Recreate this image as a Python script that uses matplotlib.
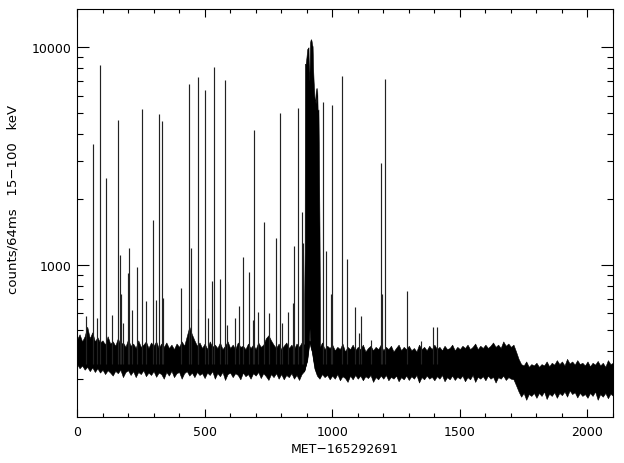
import matplotlib
matplotlib.use("Agg")
import matplotlib.pyplot as plt
from matplotlib.ticker import FixedLocator, NullFormatter, FixedFormatter

# ---- data (counts per 64 ms bin envelope) ----
band_t = list(range(0, 2101, 10))
band_hi = [455, 480, 445, 470, 520, 460, 490, 445, 465, 440,
           450, 430, 470, 435, 445, 425, 460, 430, 440, 420,
           455, 425, 435, 415, 450, 420, 430, 445, 415, 440,
           425, 445, 415, 435, 420, 440, 415, 430, 410, 435,
           420, 445, 425, 470, 520, 480, 450, 425, 440, 415,
           435, 410, 445, 420, 430, 415, 440, 410, 425, 445,
           415, 430, 410, 440, 420, 425, 410, 435, 415, 430,
           410, 440, 420, 430, 460, 475, 450, 430, 415, 435,
           410, 425, 440, 415, 430, 410, 435, 420, 440, 430,
           440, 450, 440, 430, 425, 415, 440, 410, 425, 415,
           430, 405, 420, 410, 435, 400, 420, 410, 430, 405,
           420, 410, 430, 400, 415, 425, 405, 420, 410, 430,
           405, 420, 410, 425, 400, 415, 430, 405, 420, 410,
           425, 405, 415, 400, 430, 410, 420, 405, 425, 410,
           430, 410, 420, 405, 425, 410, 415, 430, 405, 420,
           410, 425, 415, 430, 410, 420, 435, 410, 425, 415,
           430, 415, 425, 440, 420, 430, 415, 445, 425, 435,
           420, 430, 400, 370, 350, 345, 360, 340, 350, 345,
           355, 340, 350, 345, 360, 342, 355, 348, 365, 350,
           360, 345, 370, 352, 360, 348, 365, 350, 355, 345,
           360, 342, 355, 348, 362, 345, 355, 340, 365, 350,
           355]
band_lo = [350, 335, 345, 330, 340, 325, 338, 322, 335, 320,
           330, 315, 328, 320, 310, 326, 318, 330, 305, 322,
           328, 312, 325, 305, 322, 315, 328, 308, 320, 312,
           325, 306, 320, 315, 300, 322, 310, 326, 305, 318,
           322, 300, 318, 325, 310, 320, 305, 322, 312, 318,
           302, 320, 312, 325, 300, 318, 308, 322, 296, 315,
           320, 305, 318, 312, 298, 320, 308, 315, 300, 318,
           310, 322, 302, 318, 308, 296, 315, 305, 318, 300,
           315, 298, 312, 305, 318, 300, 312, 296, 315, 325,
           360, 440, 400, 335, 310, 300, 315, 305, 312, 298,
           310, 300, 315, 295, 308, 302, 290, 310, 298, 312,
           300, 310, 295, 308, 302, 312, 290, 305, 298, 310,
           300, 312, 295, 306, 300, 310, 292, 305, 298, 310,
           296, 308, 300, 312, 288, 305, 298, 310, 300, 306,
           295, 308, 300, 312, 292, 305, 298, 310, 296, 306,
           300, 310, 292, 305, 298, 312, 290, 306, 300, 308,
           295, 310, 300, 306, 288, 305, 300, 310, 296, 305,
           300, 298, 280, 262, 248, 258, 240, 255, 250, 258,
           245, 258, 250, 262, 242, 256, 250, 260, 245, 258,
           252, 262, 248, 265, 255, 260, 246, 258, 250, 255,
           245, 258, 250, 262, 240, 255, 248, 258, 244, 256,
           250]

burst_t = [890, 892, 893, 896, 899, 902, 905, 907, 909, 911, 913,
           915, 917, 919, 921, 923, 925, 927, 930, 932, 934, 936, 938,
           941, 943, 946, 948, 950, 952]
burst_hi = [700, 1150, 8400, 8390, 9000, 9820, 9900, 10000, 7000,
            7800, 10500, 10800, 10900, 10700, 10300, 10100, 8000, 7000,
            6000, 5600, 5800, 6490, 5500, 6500, 5000, 5180, 3000, 1500, 600]
burst_lo = [325, 330, 335, 345, 355, 365, 390, 410, 430, 510, 440,
            430, 420, 405, 400, 385, 370, 360, 345, 335, 330, 325, 320,
            318, 315, 312, 310, 308, 305]

spike_t = [35, 61, 77, 90, 113, 136, 160, 167, 171, 181, 200, 202, 214,
           237, 254, 270, 297, 308, 321, 333, 337, 407, 438, 445, 474,
           475, 501, 514, 527, 536, 560, 578, 586, 619, 634, 649, 673,
           690, 693, 710, 732, 753, 778, 797, 805, 827, 846, 850, 865,
           881, 885, 963, 977, 994, 1001, 1037, 1056, 1091, 1104, 1112,
           1151, 1190, 1194, 1207, 1292, 1347, 1394, 1410]
spike_v = [580, 3600, 570, 8300, 2510, 590, 4640, 1115, 738, 540, 915,
           1190, 620, 975, 5210, 684, 1600, 690, 4930, 4580, 703, 782,
           6770, 1190, 7290, 630, 6370, 570, 840, 8120, 857, 7080, 530,
           570, 650, 1093, 925, 560, 4180, 610, 1567, 600, 1325, 5000,
           540, 610, 667, 1216, 5250, 1742, 1257, 5600, 1160, 737, 5440,
           7360, 1070, 640, 486, 580, 453, 2950, 738, 7160, 762, 446,
           520, 520]
spike_base = 350

x_ticks = [0, 500, 1000, 1500, 2000]
x_ticklabels = ["0", "500", "1000", "1500", "2000"]
y_ticks = [1000, 10000]
y_ticklabels = ["1000", "10000"]

# ---- figure ----
fig = plt.figure(figsize=(6.24, 4.64), dpi=100)
ax = fig.add_axes([77 / 624, 1 - 418 / 464, 536 / 624, 408 / 464])

ax.fill_between(band_t, band_lo, band_hi, color="black", linewidth=0.4,
                edgecolor="black")
ax.fill_between(burst_t, burst_lo, burst_hi, color="black", linewidth=0.4,
                edgecolor="black")
ax.vlines(spike_t, spike_base, spike_v, color="#222222", linewidth=0.85)

ax.set_yscale("log")
ax.set_xlim(0, 2100)
ax.set_ylim(200, 15000)

ax.xaxis.set_major_locator(FixedLocator(x_ticks))
ax.xaxis.set_major_formatter(FixedFormatter(x_ticklabels))
ax.xaxis.set_minor_locator(FixedLocator(list(range(0, 2101, 100))))
ax.yaxis.set_major_locator(FixedLocator(y_ticks))
ax.yaxis.set_major_formatter(FixedFormatter(y_ticklabels))
ax.yaxis.set_minor_locator(FixedLocator([300, 400, 500, 600, 700, 800, 900,
                                         2000, 3000, 4000, 5000, 6000, 7000,
                                         8000, 9000]))
ax.yaxis.set_minor_formatter(NullFormatter())

ax.tick_params(axis="x", which="major", direction="in", length=5.8,
               width=0.8, top=True, labelsize=9, pad=6)
ax.tick_params(axis="x", which="minor", direction="in", length=3.2,
               width=0.8, top=True)
ax.tick_params(axis="y", which="major", direction="in", length=8.6,
               width=0.8, right=True, labelsize=9, pad=4)
ax.tick_params(axis="y", which="minor", direction="in", length=4.3,
               width=0.8, right=True)
for s in ax.spines.values():
    s.set_linewidth(0.8)

ax.set_xlabel("MET\u2212165292691", fontsize=9)
ax.xaxis.set_label_coords(0.5, -0.062)
ax.set_ylabel("counts/64ms   15\u2212100   keV", fontsize=9.5)
ax.yaxis.set_label_coords(-0.108, 0.535)

fig.savefig("out.png", dpi=100)
